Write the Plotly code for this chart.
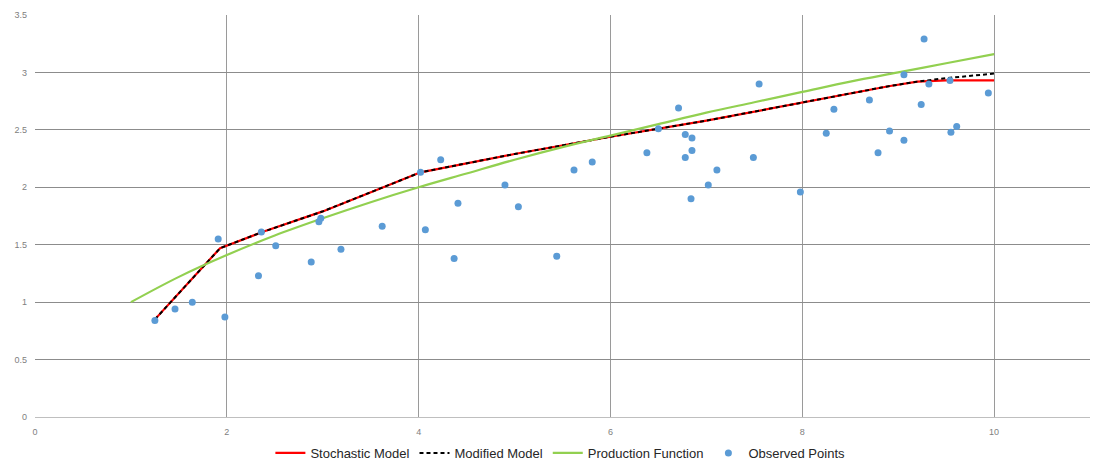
import plotly.graph_objects as go

# Observed points
obs_x = [1.25, 1.46, 1.64, 1.91, 1.98, 2.33, 2.36, 2.51, 2.88, 2.96, 2.98, 3.19, 3.62,
         4.02, 4.07, 4.23, 4.37, 4.41, 4.90, 5.04, 5.44, 5.62, 5.81, 6.38, 6.50, 6.71,
         6.78, 6.78, 6.85, 6.85, 6.84, 7.02, 7.11, 7.49, 7.55, 7.98, 8.25, 8.33, 8.70,
         8.79, 8.91, 9.06, 9.06, 9.24, 9.27, 9.32, 9.54, 9.55, 9.61, 9.94]
obs_y = [0.84, 0.94, 1.00, 1.55, 0.87, 1.23, 1.61, 1.49, 1.35, 1.70, 1.73, 1.46, 1.66,
         2.13, 1.63, 2.24, 1.38, 1.86, 2.02, 1.83, 1.40, 2.15, 2.22, 2.30, 2.51, 2.69,
         2.46, 2.26, 2.43, 2.32, 1.90, 2.02, 2.15, 2.26, 2.90, 1.96, 2.47, 2.68, 2.76,
         2.30, 2.49, 2.98, 2.41, 2.72, 3.29, 2.90, 2.93, 2.48, 2.53, 2.82]

# Stochastic model
stoch_x = [1.25, 1.93, 2.37, 3.0, 3.6, 4.02, 5.0, 6.0, 7.0, 8.0, 8.9, 9.2, 9.5, 10.0]
stoch_y = [0.85, 1.47, 1.61, 1.79, 1.99, 2.13, 2.29, 2.44, 2.58, 2.74, 2.88, 2.92, 2.93, 2.93]

# Modified model
mod_x = [1.25, 1.93, 2.37, 3.0, 3.6, 4.02, 5.0, 6.0, 7.0, 8.0, 8.9, 9.2, 9.5, 10.0]
mod_y = [0.85, 1.47, 1.61, 1.79, 1.99, 2.13, 2.29, 2.44, 2.58, 2.74, 2.88, 2.92, 2.95, 2.99]

# Production function
prod_x = [1.0, 1.5, 2.0, 2.5, 3.0, 3.5, 4.0, 4.5, 5.0, 5.5, 6.0, 6.5, 7.0, 7.5, 8.0,
          8.5, 9.0, 9.5, 10.0]
prod_y = [1.00, 1.22, 1.41, 1.58, 1.73, 1.87, 2.00, 2.12, 2.24, 2.35, 2.45, 2.55, 2.65,
          2.74, 2.83, 2.92, 3.00, 3.08, 3.16]

x_ticks = [0, 2, 4, 6, 8, 10]
y_ticks = [0, 0.5, 1, 1.5, 2, 2.5, 3, 3.5]

fig = go.Figure()
fig.add_trace(go.Scatter(x=stoch_x, y=stoch_y, mode="lines", name="Stochastic Model",
                         line=dict(color="#FF0000", width=2.2)))
fig.add_trace(go.Scatter(x=mod_x, y=mod_y, mode="lines", name="Modified Model",
                         line=dict(color="#000000", width=2, dash="4px,3px")))
fig.add_trace(go.Scatter(x=prod_x, y=prod_y, mode="lines", name="Production Function",
                         line=dict(color="#92D050", width=2.2, shape="spline")))
fig.add_trace(go.Scatter(x=obs_x, y=obs_y, mode="markers", name="Observed Points",
                         marker=dict(color="#5B9BD5", size=7)))

fig.add_shape(type="line", xref="paper", yref="paper", x0=-0.0265, x1=-0.0265,
              y0=-0.14, y1=1.04, line=dict(color="#d9d9d9", width=1))

tick_font = dict(family="Liberation Sans Narrow, Liberation Sans, sans-serif", size=9, color="#808080")
fig.update_layout(
    width=1096, height=463,
    margin=dict(l=27, r=14, t=7, b=54),
    plot_bgcolor="white", paper_bgcolor="white",
    showlegend=True,
    legend=dict(orientation="h", x=0.498, xanchor="center",
                yref="container", y=0.039, yanchor="middle",
                font=dict(family="Liberation Sans, Arial, sans-serif", size=13, color="#262626"),
                itemwidth=30, tracegroupgap=0, traceorder="normal"),
    xaxis=dict(range=[0, 11], tickvals=x_ticks, showgrid=True, gridcolor="#9a9a9a", gridwidth=1,
               zeroline=False, showline=True, linecolor="#bfbfbf", linewidth=1,
               tickfont=tick_font, ticks="", ticklabelstandoff=6, automargin=False),
    yaxis=dict(range=[0, 3.5], tickvals=y_ticks, showgrid=True, gridcolor="#8c8c8c", gridwidth=1,
               zeroline=False, showline=False, tickfont=tick_font, ticks="",
               ticklabelstandoff=7, tickformat="~g", automargin=False),
)

fig.write_html("out.html")
